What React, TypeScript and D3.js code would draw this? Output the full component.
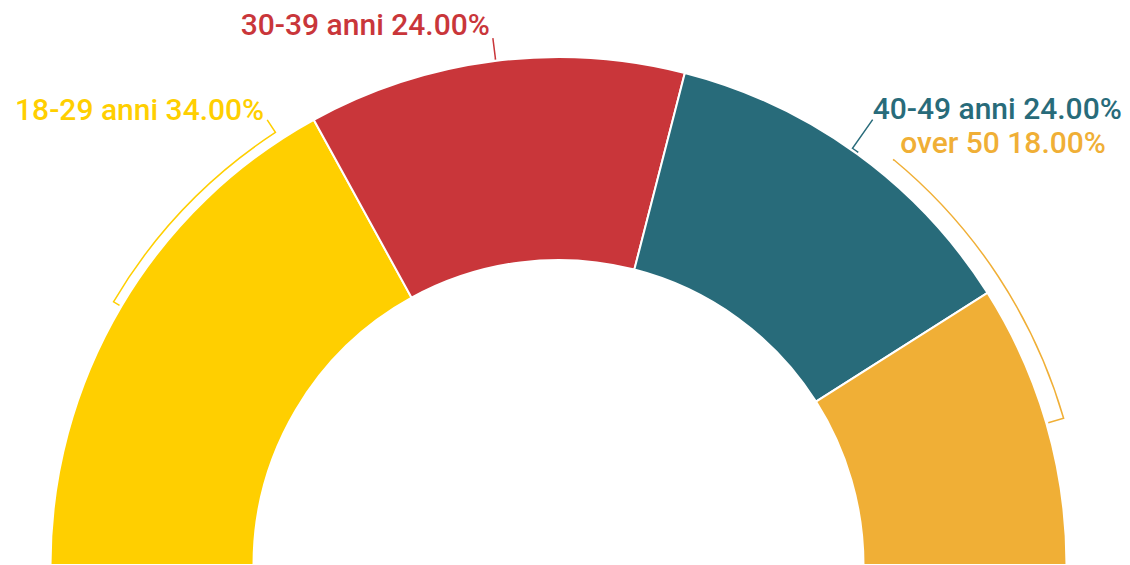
import { arc, pie } from 'd3';

// età dei partecipanti
const categories = ['18-29 anni', '30-39 anni', '40-49 anni', 'over 50'];
const values = [34, 24, 24, 18];
const colors = ['#FFCF00', '#C9363A', '#286B7A', '#F0AF36'];

// label layout: connector point as (angle in degrees, radius), text offset
const labelLayout = [
    { angle: -33.2, r: 532, dx: -3, dy: 0, anchor: 'end' },
    { angle: -7.1, r: 531, dx: -3, dy: -3, anchor: 'end' },
    { angle: 35.2, r: 545, dx: 0, dy: -1, anchor: 'start' },
    { angle: 39.6, r: 525, dx: 7, dy: -7, anchor: 'start' },
];
const bracketR = [517, 510, 510, 526];

const W = 1130;
const H = 565;
const cx = 558.5;
const cy = 565;
const outer = 508;
const inner = 305;

export default function App() {
    const total = values.reduce((a, b) => a + b, 0);
    const slices = pie<number>()
        .sort(null)
        .startAngle(-Math.PI / 2)
        .endAngle(Math.PI / 2)(values);

    const sliceArc = arc<any>().innerRadius(inner).outerRadius(outer);
    const polar = (a: number, r: number) => [r * Math.sin(a), -r * Math.cos(a)];

    return (
        <svg
            width={W}
            height={H}
            style={{ position: 'absolute', left: 0, top: 0, background: '#fff' }}
        >
            <g transform={`translate(${cx}, ${cy})`}>
                {slices.map((s, i) => (
                    <path
                        key={`slice-${i}`}
                        d={sliceArc(s) as string}
                        fill={colors[i]}
                        stroke='#fff'
                        strokeWidth={2}
                    />
                ))}
                {slices.map((s, i) => {
                    const mid = (s.startAngle + s.endAngle) / 2;
                    const L = labelLayout[i];
                    const la = (L.angle * Math.PI) / 180;
                    const rb = bracketR[i];
                    const [tx0, ty0] = polar(mid, outer + 2);
                    const [bx0, by0] = polar(mid, rb);
                    const [bx1, by1] = polar(la, rb);
                    const [chx, chy] = polar(la, L.r);
                    const sweep = la > mid ? 1 : 0;
                    const large = Math.abs(la - mid) > Math.PI ? 1 : 0;
                    const d =
                        `M${tx0},${ty0}L${bx0},${by0}` +
                        `A${rb},${rb} 0 ${large} ${sweep} ${bx1},${by1}` +
                        `L${chx},${chy}`;
                    const pct = ((s.value / total) * 100).toFixed(2);
                    return (
                        <g key={`label-${i}`}>
                            <path d={d} fill='none' stroke={colors[i]} strokeWidth={1.5} />
                            <text
                                x={chx + L.dx}
                                y={chy + L.dy}
                                textAnchor={L.anchor as any}
                                fill={colors[i]}
                                style={{
                                    fontFamily: 'Roboto, sans-serif',
                                    fontSize: '30px',
                                    fontWeight: 500,
                                }}
                            >
                                {`${categories[i]} ${pct}%`}
                            </text>
                        </g>
                    );
                })}
            </g>
        </svg>
    );
}
